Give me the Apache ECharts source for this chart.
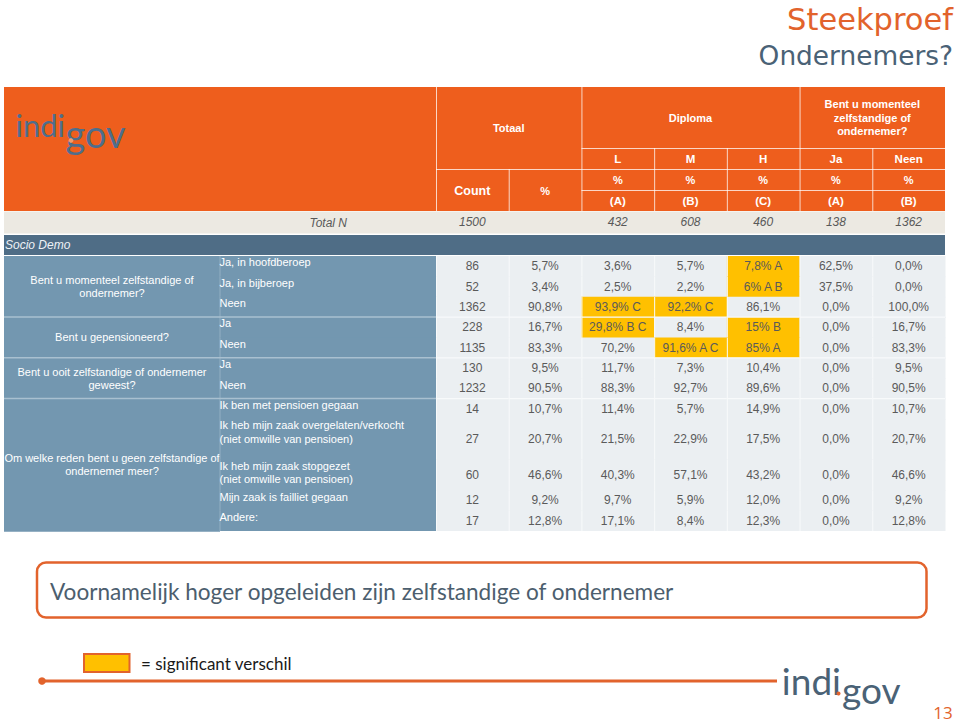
<!DOCTYPE html>
<html>
<head>
<meta charset="utf-8">
<title>Steekproef Ondernemers?</title>
<script src="https://cdn.jsdelivr.net/npm/echarts@6/dist/echarts.min.js"></script>
<style>
html,body{margin:0;padding:0;background:#fff;}
#chart{width:960px;height:724px;}
</style>
</head>
<body>
<div id="chart"></div>
<script>
// ---------------- DATA ----------------
const slideTitle = 'Steekproef';
const slideSubtitle = 'Ondernemers?';
const headerGroups = ['Totaal', 'Diploma', 'Bent u momenteel\nzelfstandige of\nondernemer?'];
const columnKeys = ['Count', '%', 'L', 'M', 'H', 'Ja', 'Neen'];
const subHeaders = ['L', 'M', 'H', 'Ja', 'Neen'];
const subUnits = ['%', '%', '%', '%', '%'];
const colLetters = ['(A)', '(B)', '(C)', '(A)', '(B)'];
const totalLabel = 'Total N';
const totalN = [1500, null, 432, 608, 460, 138, 1362];
const sectionLabel = 'Socio Demo';

const questions = [
  'Bent u momenteel zelfstandige of\nondernemer?',
  'Bent u gepensioneerd?',
  'Bent u ooit zelfstandige of ondernemer\ngeweest?',
  'Om welke reden bent u geen zelfstandige of\nondernemer meer?'
];
const questionRowCount = [3, 2, 2, 5];
const answers = [
  'Ja, in hoofdberoep',
  'Ja, in bijberoep',
  'Neen',
  'Ja',
  'Neen',
  'Ja',
  'Neen',
  'Ik ben met pensioen gegaan',
  'Ik heb mijn zaak overgelaten/verkocht\n(niet omwille van pensioen)',
  'Ik heb mijn zaak stopgezet\n(niet omwille van pensioen)',
  'Mijn zaak is failliet gegaan',
  'Andere:'
];
const counts   = [86, 52, 1362, 228, 1135, 130, 1232, 14, 27, 60, 12, 17];
const pctTotaal = [5.7, 3.4, 90.8, 16.7, 83.3, 9.5, 90.5, 10.7, 20.7, 46.6, 9.2, 12.8];
const pctL     = [3.6, 2.5, 93.9, 29.8, 70.2, 11.7, 88.3, 11.4, 21.5, 40.3, 9.7, 17.1];
const pctM     = [5.7, 2.2, 92.2, 8.4, 91.6, 7.3, 92.7, 5.7, 22.9, 57.1, 5.9, 8.4];
const pctH     = [7.8, 6, 86.1, 15, 85, 10.4, 89.6, 14.9, 17.5, 43.2, 12.0, 12.3];
const pctJa    = [62.5, 37.5, 0, 0, 0, 0, 0, 0, 0, 0, 0, 0];
const pctNeen  = [0, 0, 100, 16.7, 83.3, 9.5, 90.5, 10.7, 20.7, 46.6, 9.2, 12.8];
const sigL = ['', '', 'C', 'B C', '', '', '', '', '', '', '', ''];
const sigM = ['', '', 'C', '', 'A C', '', '', '', '', '', '', ''];
const sigH = ['A', 'A B', '', 'B', 'A', '', '', '', '', '', '', ''];
const conclusion = 'Voornamelijk hoger opgeleiden zijn zelfstandige of ondernemer';
const legendText = '= significant verschil';
const pageNumber = '13';

// ---------------- LAYOUT (not data) ----------------
const rowUnits = [1, 1, 1, 1, 1, 1, 1, 1, 2, 1.5, 1, 1];
const TABLE_L = 4, DATA_L = 436, TABLE_R = 945;
const BODY_T = 256, BODY_B = 531;
const colW = (TABLE_R - DATA_L) / columnKeys.length;
const bx = c => DATA_L + colW * c;
const cxp = c => DATA_L + colW * (c + 0.5);

const C = {
  orange: '#EE5E1D', beige: '#ECE9E2', dark: '#4F6D86', blue: '#7397B0',
  cell: '#EBEFF2', hi: '#FFC000', text: '#5a5a5a', slate: '#4A6276', accent: '#E2632C'
};
const FONT = '"Liberation Sans", Arial, sans-serif';

// ---------------- BUILD TABLE ----------------
const rowStart = [];
let acc = 0;
rowUnits.forEach(u => { rowStart.push(acc); acc += u; });
const totalUnits = acc;
const groupFirstRow = [];
let g = 0;
questionRowCount.forEach(n => { groupFirstRow.push(g); g += n; });

function fmtPct(v, sig) {
  const s = (sig && Number.isInteger(v)) ? String(v) : v.toFixed(1).replace('.', ',');
  return s + '%' + (sig ? ' ' + sig : '');
}
const pctCols = [pctTotaal, pctL, pctM, pctH, pctJa, pctNeen];
const sigCols = [null, sigL, sigM, sigH, null, null];

const cells = [];
for (let r = 0; r < counts.length; r++) {
  for (let c = 0; c < columnKeys.length; c++) {
    let txt, hi = false;
    if (c === 0) txt = String(counts[r]);
    else {
      const sig = sigCols[c - 1] ? sigCols[c - 1][r] : '';
      txt = fmtPct(pctCols[c - 1][r], sig);
      hi = !!sig;
    }
    cells.push({ value: [c, rowStart[r], rowStart[r] + rowUnits[r]], txt, hi, groupTop: groupFirstRow.includes(r) && r > 0, last: r === counts.length - 1 });
  }
}

const labelItems = [];
questions.forEach((q, i) => {
  const r0 = groupFirstRow[i], r1 = r0 + questionRowCount[i] - 1;
  labelItems.push({ value: [0, rowStart[r0], rowStart[r1] + rowUnits[r1]], txt: q, kind: 'q' });
});
answers.forEach((a, r) => {
  labelItems.push({ value: [1, rowStart[r], rowStart[r] + rowUnits[r]], txt: a, kind: 'a', last: r === answers.length - 1 });
});

const totalItems = totalN.map((v, c) => ({ value: [c, 0], txt: v == null ? '' : String(v) }));

// ---------------- RENDERERS ----------------
function textEl(text, x, y, opts) {
  return {
    type: 'text',
    style: Object.assign({
      text, x, y, fill: C.text, font: '12px ' + FONT,
      align: 'center', verticalAlign: 'middle', textAlign: 'center', textVerticalAlign: 'middle'
    }, opts || {})
  };
}

function renderCell(params, api) {
  const d = cells[params.dataIndex];
  const c = api.value(0);
  const p0 = api.coord([c, api.value(1)]);
  const p1 = api.coord([c, api.value(2)]);
  const w = api.size([1, 0])[0];
  const x0 = p0[0] - w / 2;
  const h = p1[1] - p0[1] + (d.last ? 0 : 0.8);
  const children = [
    { type: 'rect', shape: { x: x0, y: p0[1], width: w + 0.5, height: h }, style: { fill: d.hi ? C.hi : C.cell } },
    { type: 'line', shape: { x1: x0 + 0.5, y1: p0[1], x2: x0 + 0.5, y2: p1[1] }, style: { stroke: '#F8FAFB', lineWidth: 1 } }
  ];
  if (d.groupTop) children.push({ type: 'line', shape: { x1: x0, y1: p0[1], x2: x0 + w, y2: p0[1] }, style: { stroke: '#F8FAFB', lineWidth: 1.2 } });
  children.push(textEl(d.txt, p0[0], (p0[1] + p1[1]) / 2));
  return { type: 'group', children };
}

function renderTotal(params, api) {
  const d = totalItems[params.dataIndex];
  const p = api.coord([api.value(0), 0]);
  return textEl(d.txt, p[0], p[1] - 33.7, { font: 'italic 12px ' + FONT, fill: '#595959' });
}

function renderLabel(params, api) {
  const d = labelItems[params.dataIndex];
  const c = api.value(0);
  const p0 = api.coord([c, api.value(1)]);
  const p1 = api.coord([c, api.value(2)]);
  const w = api.size([1, 0])[0];
  const x0 = p0[0] - w / 2;
  const h = p1[1] - p0[1] + (d.last ? 0 : 0.8);
  const children = [
    { type: 'rect', shape: { x: x0, y: p0[1], width: w, height: h }, style: { fill: C.blue } }
  ];
  if (d.kind === 'q') {
    children.push(textEl(d.txt, p0[0], (p0[1] + p1[1]) / 2, { fill: '#fff', lineHeight: 13, font: '11px ' + FONT }));
  } else {
    children.push({ type: 'line', shape: { x1: x0, y1: p0[1], x2: x0, y2: p1[1] }, style: { stroke: '#93AFC3', lineWidth: 1 } });
    children.push(textEl(d.txt, x0 - 0.5, p0[1] - 0.4, { fill: '#fff', font: '11px ' + FONT, lineHeight: 13.4, align: 'left', textAlign: 'left', verticalAlign: 'top', textVerticalAlign: 'top' }));
  }
  return { type: 'group', children };
}

// group separator lines in the label area (drawn from the group structure)
function renderSep(params, api) {
  const pL = api.coord([0, api.value(1)]);
  const w = api.size([1, 0])[0];
  return { type: 'line', shape: { x1: pL[0] - w / 2, y1: pL[1], x2: pL[0] + w * 1.5, y2: pL[1] }, style: { stroke: '#A9C0D0', lineWidth: 1.5 } };
}

// ---------------- GRAPHIC FRAME ----------------
const WL = 'rgba(255,255,255,0.75)';
function hLine(x1, x2, y) { return { type: 'line', shape: { x1, y1: y, x2, y2: y }, style: { stroke: WL, lineWidth: 1 } }; }
function vLine(x, y1, y2) { return { type: 'line', shape: { x1: x, y1, x2: x, y2 }, style: { stroke: WL, lineWidth: 1 } }; }
function gText(text, x, y, font, fill, align, extra) {
  return { type: 'text', style: Object.assign({ text, x, y, font, fill, align: align || 'center', verticalAlign: 'middle', textAlign: align || 'center', textVerticalAlign: 'middle' }, extra || {}) };
}
const HB = '700 11px ' + FONT;
const graphics = [
  // title
  gText(slideTitle, 953, 19.5, '30.5px "DejaVu Sans", sans-serif', C.accent, 'right', { lineHeight: 31 }),
  gText(slideSubtitle, 953, 55, '26.4px "DejaVu Sans", sans-serif', C.slate, 'right', { lineHeight: 27 }),
  // header
  { type: 'rect', shape: { x: TABLE_L, y: 87, width: TABLE_R - TABLE_L, height: 124 }, style: { fill: C.orange } },
  vLine(bx(0) + 0.5, 87, 211), vLine(bx(1) + 0.5, 169, 211), vLine(bx(2) + 0.5, 87, 211),
  vLine(bx(3) + 0.5, 148, 211), vLine(bx(4) + 0.5, 148, 211), vLine(bx(5) + 0.5, 87, 211), vLine(bx(6) + 0.5, 148, 211),
  hLine(bx(2), TABLE_R, 148.5), hLine(bx(0), TABLE_R, 169.5), hLine(bx(2), TABLE_R, 190.5),
  gText(headerGroups[0], bx(1), 128, HB, '#fff'),
  gText(headerGroups[1], (bx(2) + bx(5)) / 2, 117.5, HB, '#fff'),
  gText(headerGroups[2], (bx(5) + bx(7)) / 2, 117.5, HB, '#fff', 'center', { lineHeight: 13.5 }),
  gText(columnKeys[0], cxp(0), 190.5, '700 12.5px ' + FONT, '#fff'),
  gText(columnKeys[1], cxp(1), 190.5, HB, '#fff'),
  // logo in header
  gText('indi', 65, 125, '31px Lato, sans-serif', '#4E6E8C', 'right'),
  gText('gov', 65.5, 133, '38px Lato, sans-serif', '#4E6E8C', 'left'),
  { type: 'circle', shape: { cx: 71, cy: 140.5, r: 2 }, style: { fill: '#F59A66', stroke: '#F7B08A', lineWidth: 0.5 } },
  // total N row
  { type: 'rect', shape: { x: TABLE_L, y: 211.5, width: TABLE_R - TABLE_L, height: 22 }, style: { fill: C.beige } },
  gText(totalLabel, 347, 222.5, 'italic 12px ' + FONT, '#595959', 'right'),
  // section row
  { type: 'rect', shape: { x: TABLE_L, y: 235, width: TABLE_R - TABLE_L, height: 20 }, style: { fill: C.dark } },
  gText(sectionLabel, 5, 245, 'italic 12px ' + FONT, '#EEF2F6', 'left'),
  // conclusion box
  { type: 'rect', shape: { x: 37, y: 562.5, width: 889.5, height: 55, r: 9 }, style: { fill: '#fff', stroke: C.accent, lineWidth: 2.5 } },
  gText(conclusion, 50, 591, '22.6px Lato, sans-serif', '#4C5E6E', 'left'),
  // legend
  { type: 'rect', shape: { x: 84, y: 654, width: 45.5, height: 18 }, style: { fill: C.hi, stroke: C.accent, lineWidth: 2 } },
  gText(legendText, 141, 663, '17px Lato, sans-serif', '#1a1a1a', 'left'),
  // footer line
  { type: 'line', shape: { x1: 42, y1: 681, x2: 777, y2: 681 }, style: { stroke: C.accent, lineWidth: 3 } },
  { type: 'circle', shape: { cx: 42, cy: 681, r: 3.8 }, style: { fill: C.accent } },
  gText('indi', 841, 680, '37px Lato, sans-serif', C.slate, 'right'),
  gText('gov', 842, 689, '37px Lato, sans-serif', C.slate, 'left'),
  { type: 'circle', shape: { cx: 838.5, cy: 693.5, r: 2 }, style: { fill: C.accent } },
  gText(pageNumber, 943, 712, '17px "Open Sans", sans-serif', C.accent, 'center')
];
subHeaders.forEach((t, i) => graphics.push(gText(t, cxp(i + 2), 159, '700 11.5px ' + FONT, '#fff')));
subUnits.forEach((t, i) => graphics.push(gText(t, cxp(i + 2), 180, HB, '#fff')));
colLetters.forEach((t, i) => graphics.push(gText(t, cxp(i + 2), 201, '700 11.5px ' + FONT, '#fff')));

// ---------------- CHART ----------------
const chart = echarts.init(document.getElementById('chart'), null, { renderer: 'svg' });
chart.setOption({
  animation: false,
  backgroundColor: '#ffffff',
  grid: [
    { left: DATA_L, right: 960 - TABLE_R, top: BODY_T, bottom: 724 - BODY_B },
    { left: TABLE_L, right: 960 - DATA_L, top: BODY_T, bottom: 724 - BODY_B }
  ],
  xAxis: [
    { type: 'category', gridIndex: 0, data: columnKeys, show: false },
    { type: 'category', gridIndex: 1, data: ['vraag', 'antwoord'], show: false }
  ],
  yAxis: [
    { type: 'value', gridIndex: 0, min: 0, max: totalUnits, inverse: true, show: false },
    { type: 'value', gridIndex: 1, min: 0, max: totalUnits, inverse: true, show: false }
  ],
  series: [
    { type: 'custom', name: 'cells', xAxisIndex: 0, yAxisIndex: 0, clip: false, renderItem: renderCell,
      encode: { x: 0, y: [1, 2] }, data: cells.map(d => d.value), z: 2 },
    { type: 'custom', name: 'totalN', xAxisIndex: 0, yAxisIndex: 0, clip: false, renderItem: renderTotal,
      encode: { x: 0, y: 1 }, data: totalItems.map(d => d.value), z: 5 },
    { type: 'custom', name: 'labels', xAxisIndex: 1, yAxisIndex: 1, clip: false, renderItem: renderLabel,
      encode: { x: 0, y: [1, 2] }, data: labelItems.map(d => d.value), z: 2 },
    { type: 'custom', name: 'separators', xAxisIndex: 1, yAxisIndex: 1, clip: false, renderItem: renderSep,
      encode: { x: 0, y: 1 }, data: questions.slice(1).map((q, i) => [0, rowStart[groupFirstRow[i + 1]]]), z: 3 }
  ],
  graphic: { elements: graphics }
});
</script>
</body>
</html>
